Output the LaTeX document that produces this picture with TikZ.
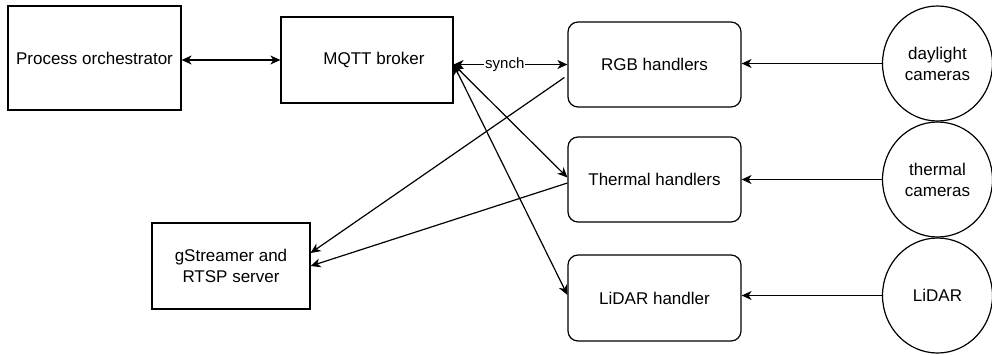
\documentclass[tikz,border=0pt]{standalone}
\usepackage{fontspec}
\setmainfont{Liberation Sans}
\usetikzlibrary{arrows.meta,shapes.geometric,calc}

\begin{document}
\begin{tikzpicture}[x=1pt,y=-1pt,
  every node/.style={font=\fontsize{17}{21}\selectfont, align=center, inner sep=0pt},
  block/.style={draw, line width=1.2pt, minimum width=#1},
  block/.default=173pt,
  handler/.style={draw, line width=1.2pt, rounded corners=10pt, minimum width=173pt, minimum height=85pt},
  source/.style={draw, line width=1.2pt, ellipse, minimum width=110pt, minimum height=115pt},
  arr/.style={line width=1.2pt, -{Stealth[length=10pt,width=9pt,inset=3pt]}},
  dbl/.style={line width=1.2pt, {Stealth[length=10pt,width=9pt,inset=3pt]}-{Stealth[length=10pt,width=9pt,inset=3pt]}},
  lbl/.style={fill=white, font=\fontsize{15}{18}\selectfont, inner sep=1pt}
]
\useasboundingbox (0,0) rectangle (992,354);

% boxes on the left
\node[block=173pt, minimum height=104pt] (orch) at (94.5,58) {Process orchestrator};
\node[block=172pt, minimum height=86pt, label={[xshift=7pt]center:MQTT broker}] (mq) at (367,60) {};
\node[block=158pt, minimum height=86pt] (gst) at (231,266) {gStreamer and\\RTSP server};

% sensor handlers
\node[handler] (rgb) at (654.5,64.5) {RGB handlers};
\node[handler] (therm) at (654.5,179.5) {Thermal handlers};
\node[handler, minimum height=86pt] (lidar) at (654.5,298) {LiDAR handler};

% sensors
\node[source] (day) at (937.5,63.5) {daylight\\cameras};
\node[source] (thc) at (937.5,179.5) {thermal\\cameras};
\node[source] (lid) at (937.5,295.5) {LiDAR};

% broker links
\coordinate (hub) at (mq.east |- rgb.west);
\draw[dbl] (orch.east |- mq.west) -- (mq.west);
\draw[dbl] (hub) -- node[lbl, pos=0.45] {synch} (rgb.west);
\draw[dbl] (hub) -- ($(therm.west)+(0,-2)$);
\draw[dbl] (hub) -- ($(lidar.west)+(0,-3)$);

% video streams
\draw[arr] ($(rgb.west)+(-3,13)$) -- ($(gst.east)+(0,-13)$);
\draw[arr] ($(therm.west)+(0,3.5)$) -- (gst.east);

% sensor inputs
\draw[arr] (day.west) -- (day.west -| rgb.east);
\draw[arr] (thc.west) -- (thc.west -| therm.east);
\draw[arr] (lid.west) -- (lid.west -| lidar.east);
\end{tikzpicture}
\end{document}
